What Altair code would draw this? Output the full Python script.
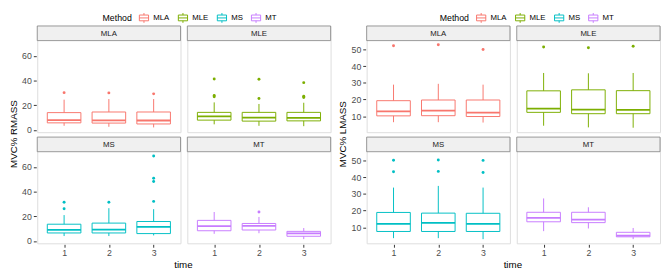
import altair as alt
import pandas as pd

METHODS = ["MLA", "MLE", "MS", "MT"]
COLORS = ["#F8766D", "#7CAE00", "#00BFC4", "#C77CFF"]
TIMES = [1, 2, 3]

# ---- MVC% RMASS (left) : order MLA t1..t3, MLE t1..t3, MS t1..t3, MT t1..t3
R_LO = [3.3, 2.5, 2.0, 4.5, 3.3, 3.0, 4.0, 4.0, 4.5, 5.8, 6.3, 1.5]
R_Q1 = [5.7, 5.5, 4.8, 7.9, 7.1, 7.3, 6.5, 6.5, 6.0, 8.3, 8.9, 3.8]
R_MED = [8.0, 7.8, 7.6, 11.0, 9.9, 9.8, 9.0, 9.2, 11.4, 12.0, 12.3, 6.1]
R_Q3 = [14.0, 14.5, 14.5, 14.2, 14.2, 14.2, 13.6, 14.5, 15.8, 16.7, 14.2, 7.8]
R_HI = [24.5, 25.0, 25.0, 22.3, 21.0, 22.0, 21.0, 26.6, 25.8, 23.5, 19.5, 10.5]
R_OUT_METHOD = ["MLA", "MLA", "MLA", "MLE", "MLE", "MLE", "MLE", "MLE", "MLE", "MLE", "MLE",
                "MS", "MS", "MS", "MS", "MS", "MS", "MS", "MT"]
R_OUT_TIME = [1, 2, 3, 1, 1, 1, 2, 2, 3, 3, 3, 1, 1, 2, 3, 3, 3, 3, 2]
R_OUT_VALUE = [30.2, 30.0, 29.2, 41.2, 27.9, 26.8, 41.0, 25.5, 38.3, 27.2, 26.2,
               31.4, 26.2, 31.4, 68.9, 50.9, 48.3, 32.1, 23.5]

# ---- MVC% LMASS (right)
L_LO = [6.4, 6.4, 6.2, 4.3, 3.3, 3.1, 3.5, 3.5, 2.9, 7.7, 9.3, 2.9]
L_Q1 = [10.2, 10.3, 9.8, 12.3, 11.5, 11.5, 7.5, 7.5, 7.5, 13.3, 12.8, 4.3]
L_MED = [12.9, 13.4, 12.1, 14.6, 14.0, 13.8, 12.1, 12.6, 12.1, 15.6, 14.6, 5.0]
L_Q3 = [19.3, 19.7, 19.7, 25.2, 25.8, 25.3, 18.9, 18.5, 18.4, 19.0, 19.0, 7.0]
L_HI = [28.9, 29.4, 28.9, 35.9, 35.7, 35.9, 33.8, 34.8, 33.8, 27.3, 22.0, 9.6]
L_OUT_METHOD = ["MLA", "MLA", "MLA", "MLE", "MLE", "MLE", "MS", "MS", "MS", "MS", "MS", "MS"]
L_OUT_TIME = [1, 2, 3, 1, 2, 3, 1, 1, 2, 2, 3, 3]
L_OUT_VALUE = [52.2, 52.8, 50.0, 51.5, 51.0, 51.9, 50.2, 43.3, 50.3, 43.5, 50.1, 42.8]

FONT = "Liberation Sans"
W = 147
H = 109
STRIP = 15
BOXPATH = ("M-0.8,-0.5H0.8 M0.8,-0.5V0.5 M0.8,0.5H-0.8 M-0.8,0.5V-0.5 "
           "M-0.8,0H0.8 M0,-0.5V-0.85 M0,0.5V0.85")


def build(lo, q1, med, q3, hi, om, ot, ov):
    rows = []
    for i, m in enumerate(METHODS):
        for j, t in enumerate(TIMES):
            k = i * 3 + j
            rows.append(dict(Method=m, time=t, lo=lo[k], q1=q1[k], med=med[k],
                             q3=q3[k], hi=hi[k], out=None))
    for m, t, v in zip(om, ot, ov):
        rows.append(dict(Method=m, time=t, lo=None, q1=None, med=None, q3=None,
                         hi=None, out=v))
    df = pd.DataFrame(rows)
    df["prow"] = df["Method"].map({"MLA": 0, "MLE": 0, "MS": 1, "MT": 1})
    df["pcol"] = df["Method"].map({"MLA": 0, "MLE": 1, "MS": 0, "MT": 1})
    return df


def panel(df, ytitle, ydomain, yvals, legx):
    cscale = alt.Scale(domain=METHODS, range=COLORS)
    stroke = alt.Stroke(
        "Method:N",
        scale=cscale,
        legend=alt.Legend(
            orient="none", legendX=legx, legendY=-15, direction="horizontal",
            titleOrient="left", title="Method", symbolType=BOXPATH, symbolSize=140,
            symbolStrokeWidth=1, symbolFillColor="transparent", labelFontSize=8,
            titleFontSize=9, labelFont=FONT, titleFont=FONT, titleFontWeight="normal",
            titleColor="#000", labelColor="#000", columnPadding=6, labelOffset=3,
            padding=0,
        ),
    )
    fill = alt.Fill("Method:N", scale=cscale, legend=None)
    xs = alt.Scale(domain=[0.4, 3.6], nice=False, zero=False)
    ys = alt.Scale(domain=ydomain, nice=False, zero=False, range=[H, STRIP])
    xax = alt.Axis(values=TIMES, format="d", title=None, grid=False, domain=False,
                   tickColor="#333", tickSize=3, labelFontSize=9, labelColor="#4D4D4D",
                   labelFont=FONT, labelPadding=2, minExtent=0)
    yax = alt.Axis(values=yvals, title=None, grid=False, domain=False,
                   tickColor="#333", tickSize=3, labelFontSize=9, labelColor="#4D4D4D",
                   labelFont=FONT, labelPadding=2, minExtent=0)

    base = alt.Chart()
    stats = "isValid(datum.q1)"
    strip = base.mark_rect(fill="#F0F0F0", stroke="#7F7F7F", strokeWidth=0.8).encode(
        x=alt.value(0), x2=alt.value(W), y=alt.value(0), y2=alt.value(STRIP)
    ).transform_filter(stats + " && datum.time == 1")
    strip_text = base.mark_text(fontSize=8, font=FONT, color="#1A1A1A").encode(
        x=alt.value(W / 2), y=alt.value(STRIP / 2 + 0.5), text="Method:N"
    ).transform_filter(stats + " && datum.time == 1")
    wlo = base.mark_rule(strokeWidth=1).encode(
        x=alt.X("time:Q", scale=xs, axis=xax), y=alt.Y("lo:Q", scale=ys, axis=yax),
        y2="q1:Q", stroke=stroke
    ).transform_filter(stats)
    whi = base.mark_rule(strokeWidth=1).encode(
        x=alt.X("time:Q", scale=xs, axis=xax), y=alt.Y("q3:Q", scale=ys, axis=yax),
        y2="hi:Q", stroke=stroke
    ).transform_filter(stats)
    box = base.mark_rect(filled=False, strokeWidth=1).encode(
        x=alt.X("xl:Q", scale=xs, axis=xax), x2="xr:Q",
        y=alt.Y("q1:Q", scale=ys, axis=yax), y2="q3:Q", stroke=stroke
    ).transform_filter(stats).transform_calculate(
        xl="datum.time - 0.375", xr="datum.time + 0.375")
    medl = base.mark_rule(strokeWidth=1.8).encode(
        x=alt.X("xl:Q", scale=xs, axis=xax), x2="xr:Q",
        y=alt.Y("med:Q", scale=ys, axis=yax), stroke=stroke
    ).transform_filter(stats).transform_calculate(
        xl="datum.time - 0.375", xr="datum.time + 0.375")
    outs = base.mark_circle(size=9, opacity=1).encode(
        x=alt.X("time:Q", scale=xs, axis=xax), y=alt.Y("out:Q", scale=ys, axis=yax),
        fill=fill
    ).transform_filter("isValid(datum.out)")

    layered = alt.layer(strip, wlo, whi, box, medl, outs, strip_text, data=df).properties(
        width=W, height=H)
    hdr = dict(labels=False, labelPadding=0, titleFont=FONT, titleFontSize=10,
               titleFontWeight="normal", titleColor="#000")
    return layered.facet(
        row=alt.Row("prow:O", title=ytitle,
                    header=alt.Header(titleOrient="left", labelOrient="left",
                                      titlePadding=-8, **hdr)),
        column=alt.Column("pcol:O", title="time",
                          header=alt.Header(titleOrient="bottom", labelOrient="bottom",
                                            titlePadding=-8, **hdr)),
        spacing={"row": 3, "column": 5},
    )


left = panel(build(R_LO, R_Q1, R_MED, R_Q3, R_HI, R_OUT_METHOD, R_OUT_TIME, R_OUT_VALUE),
             "MVC% RMASS", [-1.9, 72.4], [0, 20, 40, 60], 67)
right = panel(build(L_LO, L_Q1, L_MED, L_Q3, L_HI, L_OUT_METHOD, L_OUT_TIME, L_OUT_VALUE),
              "MVC% LMASS", [0.4, 55.3], [10, 20, 30, 40, 50], 75)

chart = alt.hconcat(left, right, spacing=6).resolve_legend(
    stroke="independent", fill="independent").resolve_scale(
    stroke="independent", fill="independent").properties(padding=0).configure_view(
    stroke="#333", strokeWidth=1).configure(background="white")

chart.save("out.html", embed_options={"renderer": "svg", "actions": False})
